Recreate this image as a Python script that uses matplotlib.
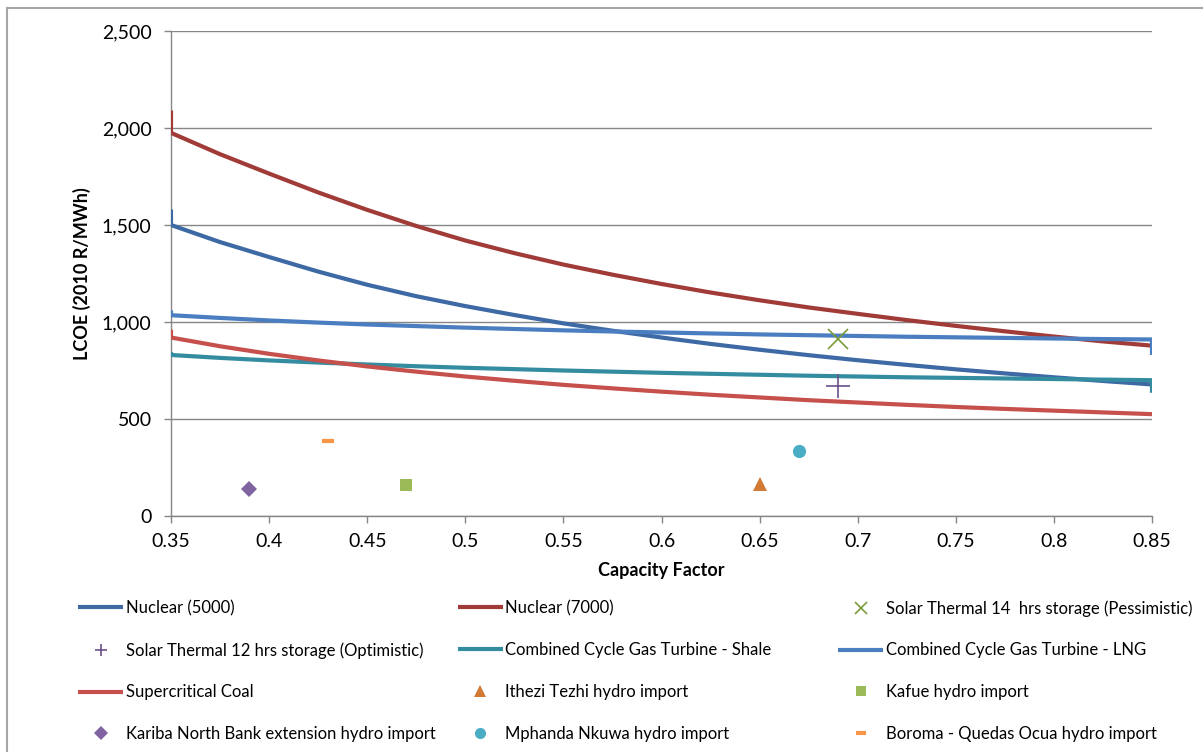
import matplotlib
matplotlib.use("Agg")
import matplotlib.pyplot as plt
import matplotlib.ticker as ticker
from matplotlib.patches import Rectangle
from matplotlib.lines import Line2D

plt.rcParams['font.family'] = ['Lato', 'DejaVu Sans']

# capacity factor grid for the cost curves
cf = [0.350, 0.375, 0.400, 0.425, 0.450, 0.475, 0.500, 0.525, 0.550, 0.575, 0.600,
      0.625, 0.650, 0.675, 0.700, 0.725, 0.750, 0.775, 0.800, 0.825, 0.850]

# LCOE (2010 R/MWh) at each capacity factor
nuclear_5000 = [1500, 1412, 1335, 1260, 1192, 1133, 1082, 1036, 993, 955, 920,
                887, 857, 829, 803, 779, 756, 735, 715, 696, 678]
nuclear_7000 = [1975, 1865, 1765, 1668, 1578, 1495, 1420, 1355, 1296, 1244, 1196,
                1152, 1112, 1075, 1042, 1010, 980, 952, 925, 900, 878]
ccgt_shale = [830, 815, 802, 791, 781, 772, 764, 757, 750, 744, 738,
              733, 728, 723, 719, 715, 712, 709, 706, 703, 700]
ccgt_lng = [1035, 1021, 1008, 997, 987, 979, 971, 964, 957, 951, 946,
            941, 936, 932, 928, 924, 921, 918, 915, 912, 910]
supercritical_coal = [920, 875, 836, 802, 771, 744, 719, 697, 676, 658, 641,
                      625, 611, 597, 585, 573, 562, 552, 543, 534, 525]

# extra first / last points that sit on the end of some series
start_points = {"nuclear_5000": 1580, "nuclear_7000": 2090, "ccgt_lng": 1060,
                "ccgt_shale": 845, "coal": 960}
end_points = {"ccgt_lng": 830, "ccgt_shale": 635}

# single-point options (capacity factor, LCOE)
solar_14hr = (0.69, 910)
solar_12hr = (0.69, 670)
ithezi_tezhi = (0.65, 165)
kafue = (0.47, 160)
kariba_north = (0.39, 140)
mphanda_nkuwa = (0.67, 335)
boroma = (0.43, 385)

x_ticks = [0.35, 0.40, 0.45, 0.50, 0.55, 0.60, 0.65, 0.70, 0.75, 0.80, 0.85]
x_tick_labels = ["0.35", "0.4", "0.45", "0.5", "0.55", "0.6", "0.65", "0.7", "0.75", "0.8", "0.85"]
y_ticks = [0, 500, 1000, 1500, 2000, 2500]

fig = plt.figure(figsize=(12.03, 7.52), dpi=100)
ax = fig.add_axes([171 / 1203, 1 - 516 / 752, (1152 - 171) / 1203, (516 - 31) / 752])


def series(key, vals):
    xs = list(cf)
    ys = list(vals)
    if key in start_points:
        xs = [cf[0]] + xs
        ys = [start_points[key]] + ys
    if key in end_points:
        xs = xs + [cf[-1]]
        ys = ys + [end_points[key]]
    return xs, ys


lw = 3.0
line_styles = {
    "n5": dict(color="#3D69A4"),
    "n7": dict(color="#A03B38"),
    "shale": dict(color="#338C9F"),
    "lng": dict(color="#4A7EC0"),
    "coal": dict(color="#C5504C"),
}
for key, name, vals in [("n5", "nuclear_5000", nuclear_5000),
                        ("n7", "nuclear_7000", nuclear_7000),
                        ("shale", "ccgt_shale", ccgt_shale),
                        ("lng", "ccgt_lng", ccgt_lng),
                        ("coal", "coal", supercritical_coal)]:
    x, y = series(name, vals)
    ax.plot(x, y, lw=lw, solid_capstyle="butt", solid_joinstyle="round",
            zorder=3, **line_styles[key])

marker_styles = {
    "s14": dict(marker="x", mew=1.2, color="#7A9A3A"),
    "s12": dict(marker="+", mew=1.2, color="#6A5088"),
    "ithezi": dict(marker="^", mew=0, color="#D27B36"),
    "kafue": dict(marker="s", mew=0, color="#9BBB59"),
    "kariba": dict(marker="D", mew=0, color="#8064A2"),
    "mphanda": dict(marker="o", mew=0, color="#4BACC6"),
    "boroma": dict(marker="_", mew=3, color="#F79646"),
}
plot_ms = {"s14": 15, "s12": 17, "ithezi": 9.5, "kafue": 9, "kariba": 8, "mphanda": 9.5, "boroma": 9}
legend_ms = {"s14": 8, "s12": 8, "ithezi": 8, "kafue": 7.5, "kariba": 7, "mphanda": 8, "boroma": 7}

for key, pt in [("s14", solar_14hr), ("s12", solar_12hr), ("ithezi", ithezi_tezhi),
                ("kafue", kafue), ("kariba", kariba_north), ("mphanda", mphanda_nkuwa),
                ("boroma", boroma)]:
    ax.plot(*pt, ls="none", ms=plot_ms[key], zorder=4, **marker_styles[key])

ax.set_xlim(0.35, 0.85)
ax.set_ylim(0, 2500)
ax.set_xticks(x_ticks)
ax.set_xticklabels(x_tick_labels)
ax.set_yticks(y_ticks)
ax.yaxis.set_major_formatter(ticker.StrMethodFormatter("{x:,.0f}"))
ax.tick_params(axis="both", direction="out", length=5, width=1, color="#868686",
               labelsize=14)
ax.tick_params(axis="x", pad=7)
ax.tick_params(axis="y", pad=9)
ax.grid(axis="y", color="#868686", lw=1)
ax.set_axisbelow(True)
for s in ["top", "right"]:
    ax.spines[s].set_visible(False)
for s in ["left", "bottom"]:
    ax.spines[s].set_color("#868686")
    ax.spines[s].set_linewidth(1)

ax.set_xlabel("Capacity Factor", fontsize=13, fontweight="bold", labelpad=9)
ax.set_ylabel("LCOE (2010 R/MWh)", fontsize=13, fontweight="bold", labelpad=8)


def proxy(key):
    if key in line_styles:
        return Line2D([], [], lw=lw, solid_capstyle="butt", **line_styles[key])
    return Line2D([], [], ls="none", ms=legend_ms[key], **marker_styles[key])


# legend laid out as three fixed-width columns
columns = [
    [("n5", "Nuclear (5000)"), ("s12", "Solar Thermal 12 hrs storage (Optimistic)"),
     ("coal", "Supercritical Coal"), ("kariba", "Kariba North Bank extension hydro import")],
    [("n7", "Nuclear (7000)"), ("shale", "Combined Cycle Gas Turbine - Shale"),
     ("ithezi", "Ithezi Tezhi hydro import"), ("mphanda", "Mphanda Nkuwa hydro import")],
    [("s14", "Solar Thermal 14  hrs storage (Pessimistic)"), ("lng", "Combined Cycle Gas Turbine - LNG"),
     ("kafue", "Kafue hydro import"), ("boroma", "Boroma - Quedas Ocua hydro import")],
]
col_x = [78, 458, 838]
for cx, col in zip(col_x, columns):
    fig.legend([proxy(k) for k, _ in col], [t for _, t in col],
               loc="upper left", bbox_to_anchor=(cx / 1203, 1 - 600 / 752),
               frameon=False, fontsize=12, handlelength=2.7, handletextpad=0.15,
               labelspacing=1.55, borderpad=0, borderaxespad=0)

fig.patches.append(Rectangle((6.5 / 1203, -0.05), 1.1, 1.05 - 7.5 / 752,
                             transform=fig.transFigure, fill=False,
                             edgecolor="#A6A6A6", lw=1.5))

fig.savefig("out.png", dpi=100)
